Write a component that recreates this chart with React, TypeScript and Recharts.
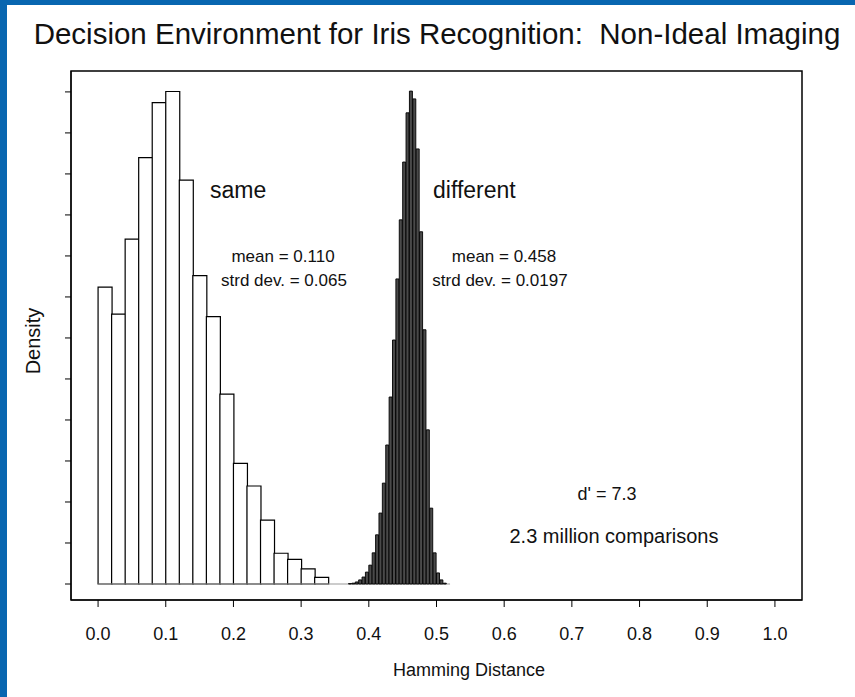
import { BarChart, Bar, XAxis, YAxis, ReferenceArea, ReferenceLine } from 'recharts';

// "same" (authentic) comparisons, bins of width 0.02
const sameBinCentres = [0.01, 0.03, 0.05, 0.07, 0.09, 0.11, 0.13, 0.15, 0.17, 0.19, 0.21, 0.23, 0.25, 0.27, 0.29, 0.31, 0.33];
const sameDensity = [7.24, 6.58, 8.41, 10.4, 11.74, 12.01, 9.85, 7.52, 6.52, 4.63, 2.94, 2.39, 1.56, 0.75, 0.6, 0.37, 0.16];

// "different" (impostor) comparisons, bins of width 0.005
const diffBinCentres = [
  0.3725, 0.3775, 0.3825, 0.3875, 0.3925, 0.3975, 0.4025, 0.4075, 0.4125, 0.4175,
  0.4225, 0.4275, 0.4325, 0.4375, 0.4425, 0.4475, 0.4525, 0.4575, 0.4625, 0.4675,
  0.4725, 0.4775, 0.4825, 0.4875, 0.4925, 0.4975, 0.5025, 0.5075, 0.5125,
];
const diffDensity = [
  0.01, 0.02, 0.05, 0.1, 0.17, 0.29, 0.46, 0.76, 1.2, 1.73,
  2.46, 3.39, 4.56, 5.95, 7.44, 8.88, 10.29, 11.49, 12.02, 11.83,
  10.61, 8.59, 6.2, 3.76, 1.85, 0.76, 0.27, 0.1, 0.02,
];

const xTicks = [0, 0.1, 0.2, 0.3, 0.4, 0.5, 0.6, 0.7, 0.8, 0.9, 1.0];
const yTicks = [0, 1, 2, 3, 4, 5, 6, 7, 8, 9, 10, 11, 12];
const xDomain: [number, number] = [-0.04, 1.04];
const yDomain: [number, number] = [-0.39, 12.51];

const sameData = sameBinCentres.map((x, i) => ({ x, density: sameDensity[i] }));
const diffData = diffBinCentres.map((x, i) => ({ x, density: diffDensity[i] }));

const FONT = '"Liberation Sans", Arial, Helvetica, sans-serif';
const W = 855;
const H = 697;

const NoLabel = () => <g />;

export default function App() {
  return (
    <div style={{ position: 'absolute', left: 0, top: 0, width: W, height: H, background: '#fff', overflow: 'hidden', fontFamily: FONT }}>
      <div style={{ position: 'absolute', left: 0, top: 0, width: W, height: 5, background: '#0866b0' }} />
      <div style={{ position: 'absolute', left: 0, top: 0, width: 7, height: H, background: '#0866b0' }} />

      {/* frame, axes and the "same" histogram */}
      <div style={{ position: 'absolute', left: 0, top: 0 }}>
        <BarChart width={W} height={H} data={sameData} margin={{ top: 71, right: 53, bottom: 37, left: 31 }} barCategoryGap={0}>
          <XAxis
            dataKey="x"
            type="number"
            domain={xDomain}
            allowDataOverflow
            ticks={xTicks}
            tickFormatter={(v: number) => v.toFixed(1)}
            height={60}
            tickSize={7}
            tickMargin={20}
            stroke="#000"
            tick={{ fill: '#111', fontSize: 18, fontFamily: FONT }}
          />
          <YAxis
            type="number"
            domain={yDomain}
            allowDataOverflow
            ticks={yTicks}
            width={40}
            tickSize={6}
            tickLine={{ stroke: '#000' }}
            tick={NoLabel}
            stroke="#000"
          />
          <ReferenceArea x1={xDomain[0]} x2={xDomain[1]} y1={yDomain[0]} y2={yDomain[1]} fill="none" stroke="#000" strokeWidth={1.5} fillOpacity={0} ifOverflow="visible" />
          <ReferenceLine segment={[{ x: 0, y: 0 }, { x: 0.52, y: 0 }]} stroke="#999" strokeWidth={1} />
          <Bar dataKey="density" fill="#fff" stroke="#000" strokeWidth={1.2} isAnimationActive={false} />
        </BarChart>
      </div>

      {/* "different" histogram on the same scales */}
      <div style={{ position: 'absolute', left: 0, top: 0 }}>
        <BarChart width={W} height={H} data={diffData} margin={{ top: 71, right: 53, bottom: 97, left: 71 }} barCategoryGap={0}>
          <XAxis dataKey="x" type="number" domain={xDomain} allowDataOverflow hide />
          <YAxis type="number" domain={yDomain} allowDataOverflow hide />
          <Bar dataKey="density" fill="#4a4a4a" stroke="#000" strokeWidth={0.9} isAnimationActive={false} />
        </BarChart>
      </div>

      {/* titles and annotations */}
      <svg width={W} height={H} style={{ position: 'absolute', left: 0, top: 0, pointerEvents: 'none' }} fontFamily={FONT} fill="#111">
        <text x={437} y={44} fontSize={29.5} textAnchor="middle" xmlSpace="preserve">Decision Environment for Iris Recognition:  Non-Ideal Imaging</text>
        <text x={469} y={676} fontSize={18} textAnchor="middle">Hamming Distance</text>
        <text x={0} y={0} fontSize={20} textAnchor="middle" transform="translate(40 341) rotate(-90)">Density</text>
        <text x={210} y={198} fontSize={23}>same</text>
        <text x={433} y={198} fontSize={23}>different</text>
        <text x={283} y={262} fontSize={17} textAnchor="middle">mean = 0.110</text>
        <text x={284} y={286} fontSize={17} textAnchor="middle">strd dev. = 0.065</text>
        <text x={504} y={262} fontSize={17} textAnchor="middle">mean = 0.458</text>
        <text x={500} y={286} fontSize={17} textAnchor="middle">strd dev. = 0.0197</text>
        <text x={607} y={500} fontSize={18} textAnchor="middle">d' = 7.3</text>
        <text x={614} y={543} fontSize={20} textAnchor="middle">2.3 million comparisons</text>
      </svg>
    </div>
  );
}
